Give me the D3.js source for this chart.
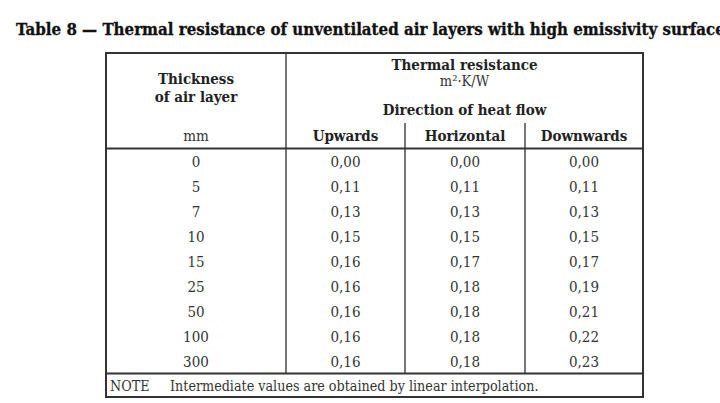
<!DOCTYPE html>
<html>
<head>
<meta charset="utf-8">
<script src="https://cdn.jsdelivr.net/npm/d3@7"></script>
<style>
  html, body { margin: 0; padding: 0; background: #fff; }
  svg { display: block; }
  text { font-family: "DejaVu Serif Condensed", "DejaVu Serif", serif; font-stretch: condensed; }
</style>
</head>
<body>
<div id="chart"></div>
<script>
"use strict";

const title = "Table 8 \u2014 Thermal resistance of unventilated air layers with high emissivity surfaces";
const thickness = ["0", "5", "7", "10", "15", "25", "50", "100", "300"];
const directions = ["Upwards", "Horizontal", "Downwards"];
const upwards = [0.00, 0.11, 0.13, 0.15, 0.16, 0.16, 0.16, 0.16, 0.16];
const horizontal = [0.00, 0.11, 0.13, 0.15, 0.17, 0.18, 0.18, 0.18, 0.18];
const downwards = [0.00, 0.11, 0.13, 0.15, 0.17, 0.19, 0.21, 0.22, 0.23];
const noteText = "Intermediate values are obtained by linear interpolation.";

const W = 720, H = 403;
const tLeft = 106, tRight = 643, tTop = 53, headBottom = 148.5, noteTop = 373.5, tBottom = 397;

const svg = d3.select("#chart").append("svg")
  .attr("width", W)
  .attr("height", H);

const locale = d3.formatLocale({ decimal: ",", thousands: ".", grouping: [3], currency: ["", ""] });
const fmt = locale.format(".2f");

// column edges: thickness column + 3 direction columns
const columns = ["thickness"].concat(directions);
const colX = d3.scaleOrdinal().domain(columns).range([tLeft, 286, 405, 525]);
const colEnd = d3.scaleOrdinal().domain(columns).range([286, 405, 525, tRight]);
const colMid = c => (colX(c) + colEnd(c)) / 2;

const yRow = d3.scaleBand().domain(thickness).range([headBottom, noteTop]);

const rows = thickness.map((t, i) => ({
  t: t,
  vals: [upwards[i], horizontal[i], downwards[i]]
}));

// title (runs off the right edge, like the scan)
const titleSize = "16.5px";
const titleText = svg.append("text")
  .attr("x", 16)
  .attr("y", 35)
  .style("font-size", titleSize)
  .style("font-weight", "bold")
  .attr("fill", "#111")
  .attr("stroke", "#111")
  .attr("stroke-width", 0.3)
  .text(title);

// fit title so that "...surfac" ends near x=716
const probe = svg.append("text")
  .style("font-size", titleSize)
  .style("font-weight", "bold")
  .text(title.slice(0, title.length - 2));
const probeW = probe.node().getComputedTextLength();
probe.remove();
const sx = 700 / probeW;
titleText.attr("transform", `translate(16,0) scale(${sx},1) translate(-16,0)`);

// body vertical lines (grey)
const lines = svg.append("g");
lines.selectAll(".vbody")
  .data(directions)
  .join("line")
  .attr("x1", d => colX(d))
  .attr("x2", d => colX(d))
  .attr("y1", d => d === "Upwards" ? tTop : 123)
  .attr("y2", noteTop)
  .attr("stroke", "#777")
  .attr("stroke-width", 2);

// header bottom + note divider
lines.selectAll(".hline")
  .data([headBottom, noteTop])
  .join("line")
  .attr("x1", tLeft)
  .attr("x2", tRight)
  .attr("y1", d => d)
  .attr("y2", d => d)
  .attr("stroke", "#333")
  .attr("stroke-width", 2);

// outer border
lines.append("rect")
  .attr("x", tLeft)
  .attr("y", tTop)
  .attr("width", tRight - tLeft)
  .attr("height", tBottom - tTop)
  .attr("fill", "none")
  .attr("stroke", "#333")
  .attr("stroke-width", 2);

// header text
const head = svg.append("g").attr("fill", "#222").attr("text-anchor", "middle");
const grpMid = (colX("Upwards") + tRight) / 2;

head.append("text").attr("x", colMid("thickness")).attr("y", 84)
  .style("font-size", "15px").style("font-weight", "bold").text("Thickness");
head.append("text").attr("x", colMid("thickness")).attr("y", 102)
  .style("font-size", "15px").style("font-weight", "bold").text("of air layer");
head.append("text").attr("x", colMid("thickness")).attr("y", 141)
  .style("font-size", "15px").attr("fill", "#333").text("mm");

head.append("text").attr("x", grpMid).attr("y", 70)
  .style("font-size", "15px").style("font-weight", "bold").text("Thermal resistance");
head.append("text").attr("x", grpMid).attr("y", 86)
  .style("font-size", "14.5px").attr("fill", "#333").text("m\u00b2\u00b7K/W");
head.append("text").attr("x", grpMid).attr("y", 115)
  .style("font-size", "15px").style("font-weight", "bold").text("Direction of heat flow");

head.selectAll(".dir")
  .data(directions)
  .join("text")
  .attr("x", d => colMid(d))
  .attr("y", 141)
  .style("font-size", "15px")
  .style("font-weight", "bold")
  .text(d => d);

// body rows
const body = svg.append("g").attr("fill", "#333").attr("text-anchor", "middle")
  .style("font-size", "15px");

const rowG = body.selectAll(".row")
  .data(rows)
  .join("g")
  .attr("transform", d => `translate(0,${yRow(d.t) + yRow.bandwidth() / 2 + 5.5})`);

rowG.append("text")
  .attr("x", colMid("thickness"))
  .text(d => d.t);

rowG.selectAll(".val")
  .data(d => d.vals.map((v, i) => ({ col: directions[i], v: v })))
  .join("text")
  .attr("x", d => colMid(d.col))
  .text(d => fmt(d.v));

// note
const note = svg.append("g").attr("fill", "#333").style("font-size", "14.2px");
note.append("text").attr("x", 110).attr("y", 391).text("NOTE");
note.append("text").attr("x", 170).attr("y", 391).text(noteText);
</script>
</body>
</html>
